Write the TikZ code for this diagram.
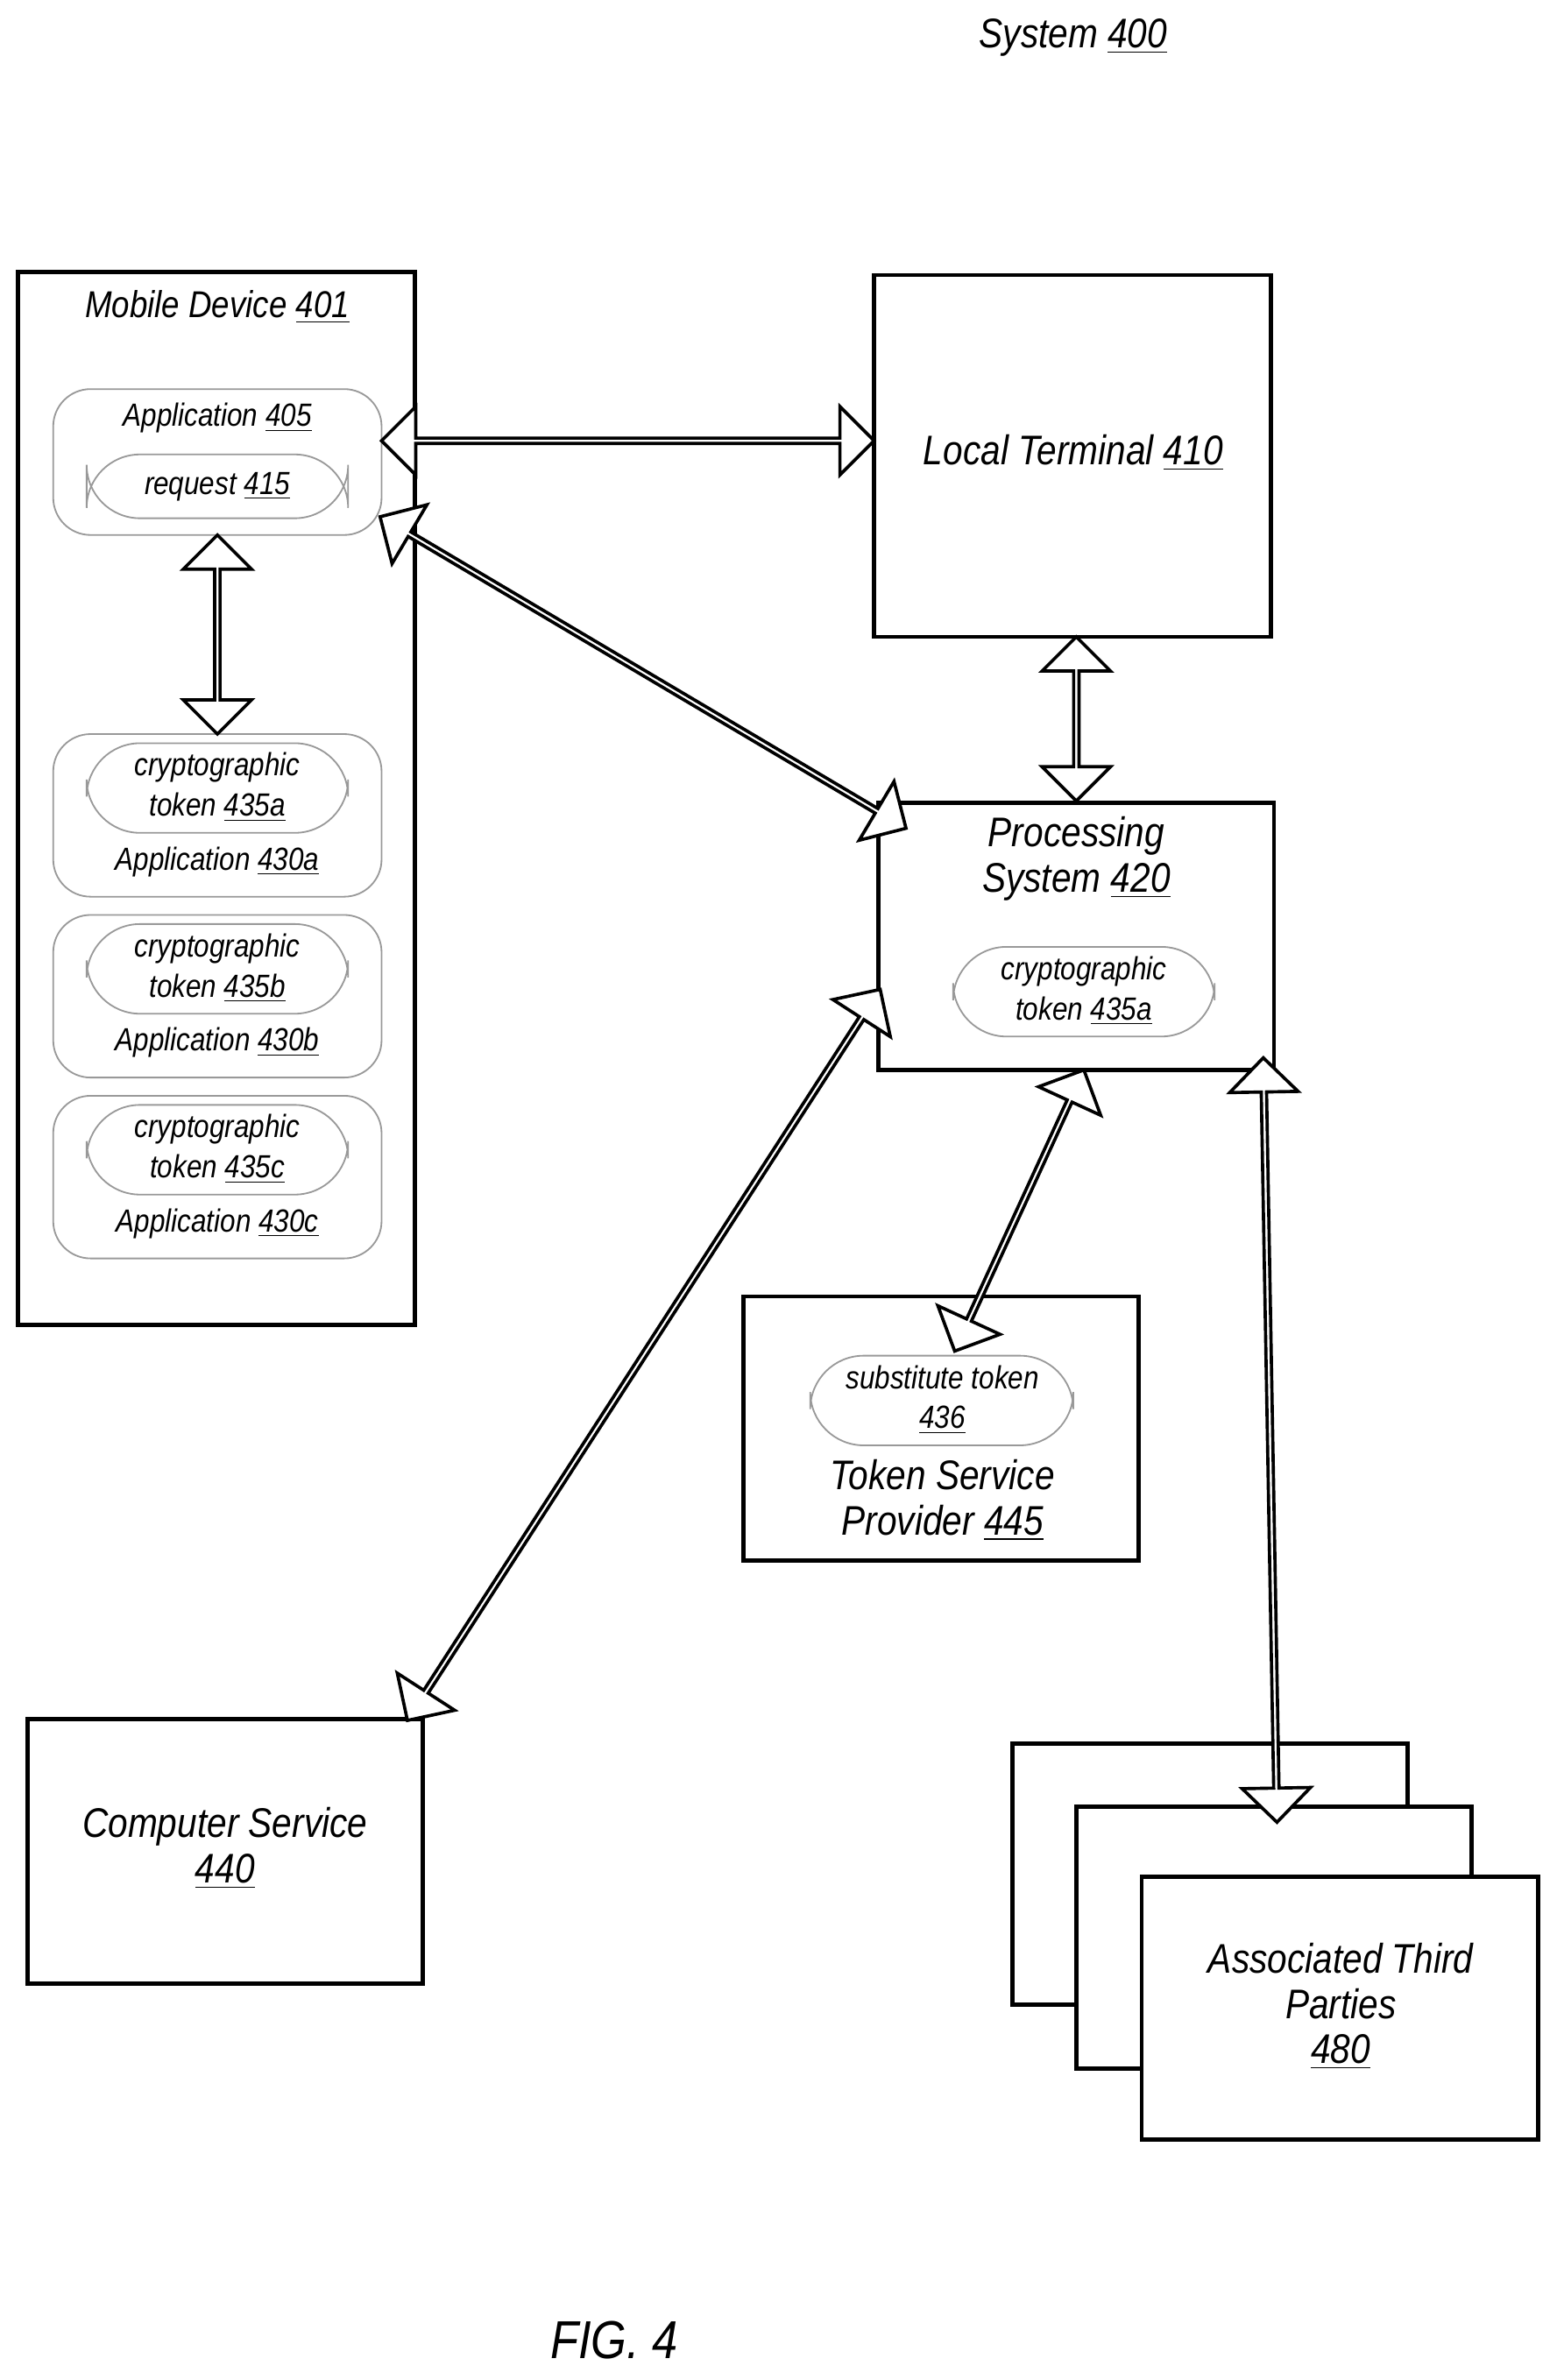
\documentclass[tikz,border=0pt]{standalone}
\usepackage{fontspec}
\setmainfont{Liberation Sans}[FakeStretch=0.86]
\usetikzlibrary{fit,calc,shapes.arrows}
\tikzset{
  box/.style={draw, line width=1.6pt, inner sep=0pt},
  rbox/.style={draw=black!40, line width=0.6pt, rounded corners=14pt, inner sep=0pt},
  pill/.style={draw=black!40, line width=0.6pt, rounded corners=20pt, inner sep=0pt},
  big/.style={font=\fontsize{15.5}{17}\itshape, align=center},
  small/.style={font=\fontsize{12}{15}\itshape, align=center},
  fatarrow/.style={draw, fill=white, line width=1.2pt, double arrow, minimum width=0.9cm,
    double arrow head extend=0.25cm, inner sep=0pt, shape border uses incircle=false}
}
\newcommand{\fat}[2]{\path let \p1=($(#2)-(#1)$), \n1={atan2(\y1,\x1)}, \n2={veclen(\x1,\y1)} in
  node[fatarrow, minimum height=\n2, rotate=\n1] at ($(#1)!0.5!(#2)$) {};}
\begin{document}
\begin{tikzpicture}[x=0.02cm, y=-0.02cm]
\useasboundingbox (0,0) rectangle (1024,1566);
\node[big] (title) at (706,25) {System \underline{400}};
% mobile device
\node[box, fit={(12,179)(273,872)}] (md) {};
\node[big, font=\fontsize{14}{16}\itshape] at (143,202) {Mobile Device \underline{401}};
\node[rbox, fit={(35,256)(251,352)}] (app) {};
\node[small] at (143,275) {Application \underline{405}};
\node[pill, fit={(57,299)(229,341)}] (req) {};
\node[small] at (143,320) {request \underline{415}};
\foreach \y/\l in {483/a, 602/b, 721/c}{
  \node[rbox, fit={(35,\y)(251,\y+107)}] (app\l) {};
  \node[pill, fit={(57,\y+6)(229,\y+65)}] (tok\l) {};
  \node[small] at (143,\y+35) {cryptographic\\token \underline{435\l}};
  \node[small] at (143,\y+84) {Application \underline{430\l}};
}
% terminal and processing
\node[box, fit={(575,181)(836,419)}] (lt) {};
\node[big] at (706,298) {Local Terminal \underline{410}};
\node[box, fit={(578,528)(838,704)}] (ps) {};
\node[big] at (708,565) {Processing\\System \underline{420}};
\node[pill, fit={(627,623)(799,682)}] (pstok) {};
\node[small] at (713,652) {cryptographic\\token \underline{435a}};
% token service provider
\node[box, fit={(489,853)(749,1027)}] (tsp) {};
\node[pill, fit={(533,892)(706,951)}] (sub) {};
\node[small] at (620,921) {substitute token\\\underline{436}};
\node[big] at (620,987) {Token Service\\Provider \underline{445}};
% computer service
\node[box, fit={(18,1131)(278,1305)}] (cs) {};
\node[big] at (148,1216) {Computer Service\\\underline{440}};
% third parties
\node[box, fill=white, fit={(666,1147)(926,1319)}] (tp1) {};
\node[box, fill=white, fit={(708,1189)(968,1361)}] (tp2) {};
\node[box, fill=white, fit={(751,1235)(1012,1408)}] (tp3) {};
\node[big] at (882,1320) {Associated Third\\Parties\\\underline{480}};
\node[font=\fontsize{20}{22}\itshape] (fig) at (404,1540) {FIG. 4};
% connectors
\coordinate (a1) at (251,290); \coordinate (b1) at (575,290);
\coordinate (a2) at (250,340); \coordinate (b2) at (596,545);
\coordinate (a3) at (143,352); \coordinate (b3) at (143,483);
\coordinate (a4) at (708,419); \coordinate (b4) at (708,527);
\coordinate (a5) at (579,651); \coordinate (b5) at (268,1132);
\coordinate (a6) at (713,704); \coordinate (b6) at (628,889);
\coordinate (a7) at (831,696); \coordinate (b7) at (840,1199);
\fat{a1}{b1} \fat{a2}{b2} \fat{a3}{b3} \fat{a4}{b4}
\fat{a5}{b5} \fat{a6}{b6} \fat{a7}{b7}
\end{tikzpicture}
\end{document}
